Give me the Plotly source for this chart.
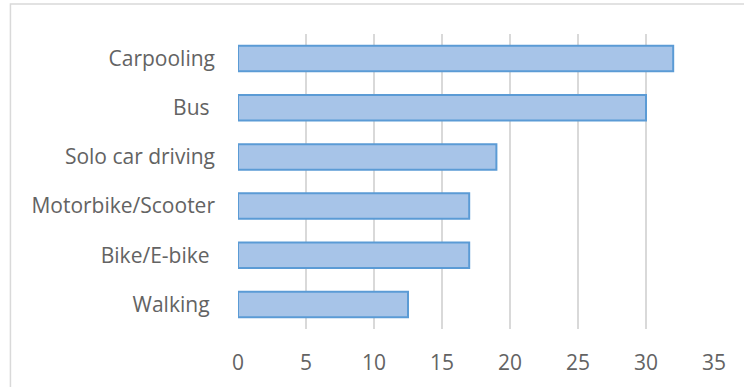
import plotly.graph_objects as go

categories = ["Carpooling", "Bus\u00a0", "Solo car driving", "Motorbike/Scooter", "Bike/E-bike\u00a0", "Walking\u00a0"]
values = [32, 30, 19, 17, 17, 12.5]
x_ticks = [0, 5, 10, 15, 20, 25, 30, 35]

fig = go.Figure()
fig.add_trace(go.Bar(
    x=values,
    y=categories,
    orientation="h",
    marker=dict(color="#a7c4e8", line=dict(color="#5b9bd5", width=2)),
    showlegend=False,
))

W, H = 744, 387
ml, mr, mt, mb = 237.6, 30.3, 34, 58

fig.update_layout(
    width=W, height=H,
    margin=dict(l=ml, r=mr, t=mt, b=mb, pad=0),
    paper_bgcolor="white",
    plot_bgcolor="white",
    bargap=0.48,
    font=dict(family="Open Sans", size=21, color="#636363"),
    xaxis=dict(
        range=[0, 35],
        tickvals=x_ticks,
        ticktext=[str(v) for v in x_ticks],
        showgrid=True,
        gridcolor="#d9d9d9",
        gridwidth=1.5,
        zeroline=False,
        showline=False,
        ticks="",
        ticklabelstandoff=19,
        tickfont=dict(family="Open Sans", size=21, color="#636363"),
    ),
    yaxis=dict(
        autorange="reversed",
        showgrid=False,
        zeroline=False,
        showline=False,
        ticks="",
        ticklabelstandoff=22,
        tickfont=dict(family="Open Sans", size=21, color="#636363"),
    ),
    shapes=[
        dict(type="rect", xref="paper", yref="paper",
             x0=(10 - ml) / (W - ml - mr), x1=(760 - ml) / (W - ml - mr),
             y0=(H - mb - 400) / (H - mt - mb), y1=(H - mb - 4) / (H - mt - mb),
             line=dict(color="#d9d9d9", width=1.5), fillcolor="rgba(0,0,0,0)", layer="below"),
    ],
)

fig.write_html("out.html")
